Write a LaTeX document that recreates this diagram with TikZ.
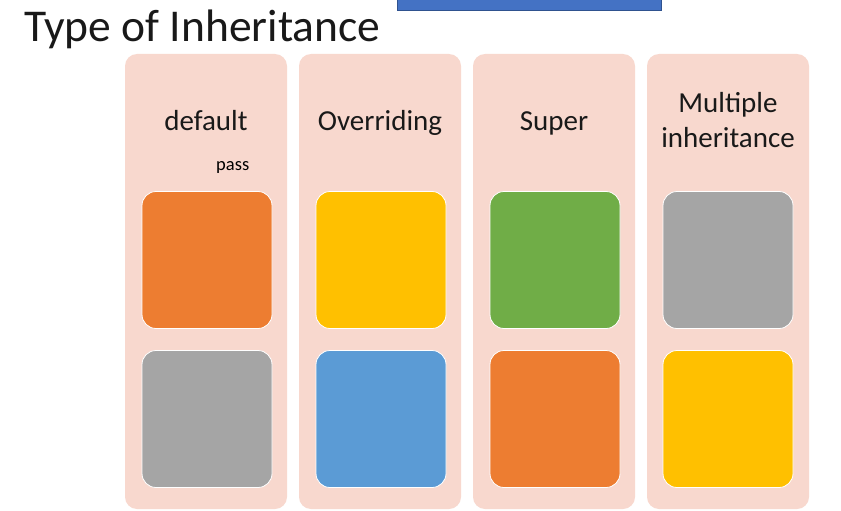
\documentclass[tikz,border=0pt]{standalone}
\usepackage{fontspec}
\setmainfont{Carlito}
\definecolor{colpink}{HTML}{F8D8CE}
\definecolor{cOrange}{HTML}{ED7D31}
\definecolor{cYellow}{HTML}{FFC000}
\definecolor{cGreen}{HTML}{70AD47}
\definecolor{cGray}{HTML}{A5A5A5}
\definecolor{cBlue}{HTML}{5B9BD5}
\definecolor{hdrBlue}{HTML}{4472C4}
\definecolor{hdrEdge}{HTML}{2F528F}
\begin{document}
\begin{tikzpicture}[x=1pt,y=-1pt,
  colbox/.style={fill=colpink,draw=none,rounded corners=12pt,minimum width=162pt,minimum height=455pt,inner sep=0pt},
  tile/.style={fill=#1,draw=white,line width=0.8pt,rounded corners=14pt,minimum width=130pt,minimum height=137pt,inner sep=0pt},
  lbl/.style={font=\fontsize{29}{34}\selectfont,text=black!90,inner sep=0pt},
  smalllbl/.style={font=\fontsize{18.5}{20}\selectfont,text=black,inner sep=0pt}]
\useasboundingbox (0,0) rectangle (841,511);
\fill[white] (0,0) rectangle (841,511);
% header bar
\draw[fill=hdrBlue,draw=hdrEdge,line width=1pt] (397,-3) rectangle (661,11);
\node[anchor=base west,inner sep=0pt,text=black!90,font=\fontsize{45.5}{50}\selectfont] (title) at (24,42) {Type of Inheritance};
% columns
\node[colbox] (c1) at (206,281.5) {};
\node[colbox] (c2) at (380,281.5) {};
\node[colbox] (c3) at (554,281.5) {};
\node[colbox] (c4) at (728,281.5) {};
% labels
\node[lbl,anchor=base] (l1) at (206,130) {default};
\node[lbl,anchor=base] (l2) at (380,130) {Overriding};
\node[lbl,anchor=base] (l3) at (554,130) {Super};
\node[lbl,anchor=base] (l4a) at (728,113) {Multiple};
\node[lbl,anchor=base] (l4b) at (728,147) {inheritance};
\node[smalllbl,anchor=base west] (pass) at (216,170) {pass};
% tiles
\node[tile=cOrange] (t11) at (207,260) {};
\node[tile=cGray]   (t12) at (207,419) {};
\node[tile=cYellow] (t21) at (381,260) {};
\node[tile=cBlue]   (t22) at (381,419) {};
\node[tile=cGreen]  (t31) at (555,260) {};
\node[tile=cOrange] (t32) at (555,419) {};
\node[tile=cGray]   (t41) at (728,260) {};
\node[tile=cYellow] (t42) at (728,419) {};
\end{tikzpicture}
\end{document}
